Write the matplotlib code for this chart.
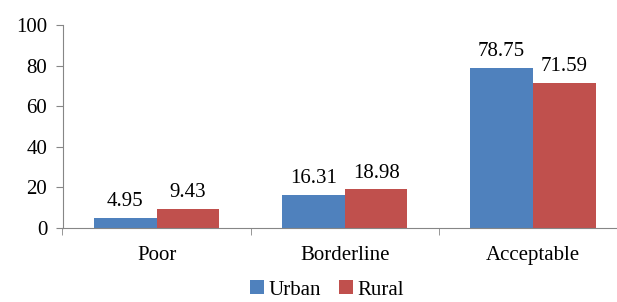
import numpy as np
import matplotlib
matplotlib.use("Agg")
import matplotlib.pyplot as plt

categories = ["Poor", "Borderline", "Acceptable"]
urban = [4.95, 16.31, 78.75]
rural = [9.43, 18.98, 71.59]
series_names = ["Urban", "Rural"]

BLUE = "#4F81BD"
RED = "#C0504D"
AXIS_GREY = "#868686"
FS = 15

plt.rcParams["font.family"] = ["Liberation Serif", "DejaVu Serif"]

fig = plt.figure(figsize=(6.17, 3.02), dpi=100)
# axes run past the right edge, as in the cropped original
ax = fig.add_axes([62.5 / 617, (302 - 228) / 302, (627 - 62.5) / 617, (228 - 25) / 302])

x = np.arange(len(categories))
w = 1 / 3
b1 = ax.bar(x - w / 2, urban, w, color=BLUE, label=series_names[0])
b2 = ax.bar(x + w / 2, rural, w, color=RED, label=series_names[1])

for bars, vals in ((b1, urban), (b2, rural)):
    for rect, v in zip(bars, vals):
        ax.annotate(f"{v:.2f}", (rect.get_x() + rect.get_width() / 2, v),
                    xytext=(0, 5), textcoords="offset points",
                    ha="center", va="bottom", fontsize=FS)

ax.set_xlim(-0.5, 2.5)
ax.set_ylim(0, 100)
ax.set_yticks(np.arange(0, 101, 20))
ax.set_xticks(x)
ax.set_xticklabels(categories)
ax.set_xticks(np.arange(-0.5, 3, 1), minor=True)

for side in ("top", "right"):
    ax.spines[side].set_visible(False)
for side in ("left", "bottom"):
    ax.spines[side].set_color(AXIS_GREY)

ax.tick_params(axis="y", colors=AXIS_GREY, labelcolor="black", labelsize=FS,
               length=5, direction="out", pad=6)
ax.tick_params(axis="x", which="major", length=0, labelsize=FS, pad=13)
ax.tick_params(axis="x", which="minor", colors=AXIS_GREY, length=5, direction="out")

fig.legend(handles=[b1, b2], labels=series_names, loc="center",
           bbox_to_anchor=(327 / 617, 1 - 290 / 302), ncol=2, frameon=False,
           fontsize=FS, handlelength=0.65, handleheight=0.65, handletextpad=0.2,
           columnspacing=0.9, borderaxespad=0)

fig.savefig("out.png", dpi=100, facecolor="white")
plt.close(fig)
